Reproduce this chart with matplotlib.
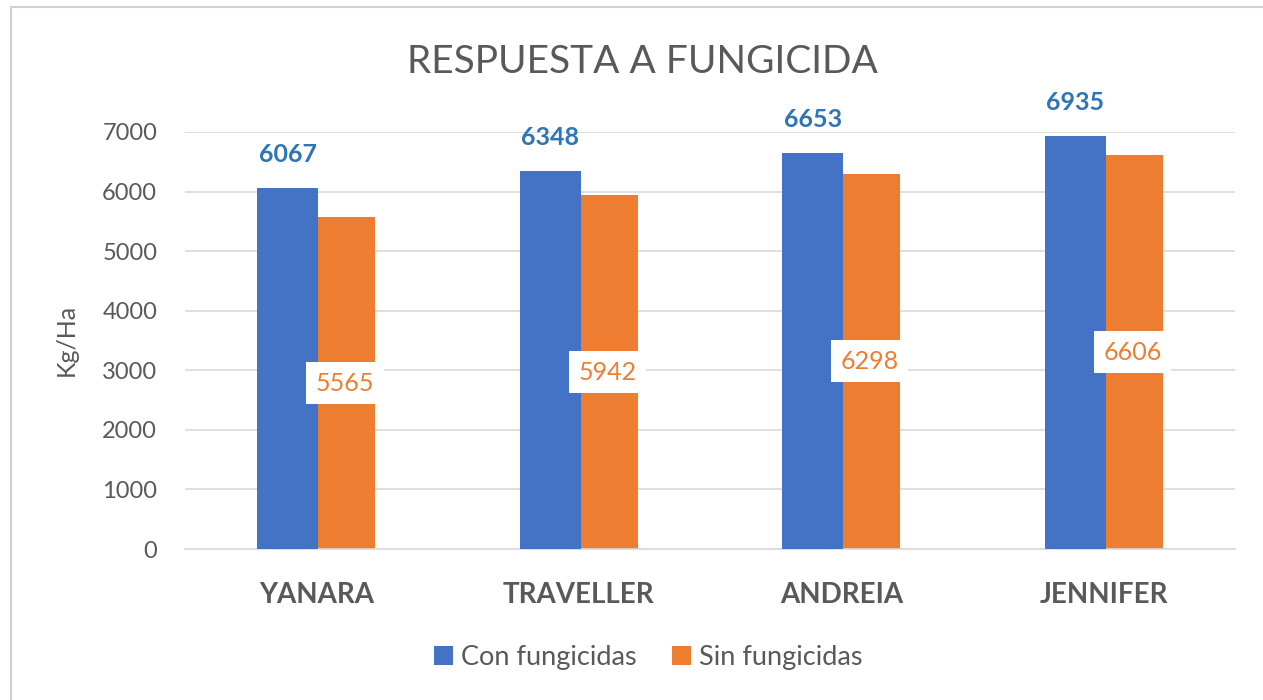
import matplotlib
matplotlib.use("Agg")
import matplotlib.pyplot as plt
from matplotlib.patches import Rectangle
import numpy as np

categories = ["YANARA", "TRAVELLER", "ANDREIA", "JENNIFER"]
con_fungicidas = [6067, 6348, 6653, 6935]
sin_fungicidas = [5565, 5942, 6298, 6606]
series_names = ["Con fungicidas", "Sin fungicidas"]
yticks = [0, 1000, 2000, 3000, 4000, 5000, 6000, 7000]

plt.rcParams['font.family'] = ['Lato', 'DejaVu Sans']
W, H = 1263, 700
fig = plt.figure(figsize=(W / 100, H / 100), dpi=100)
fig.patch.set_facecolor('white')

# outer chart border
fig.add_artist(Rectangle((11 / W, -0.05), 1.1, 1 - 7 / H + 0.05, transform=fig.transFigure,
                         fill=False, edgecolor='#d0d0d0', linewidth=1.5))

left, right = 185, 1235
bottom, top = 549, 132
ax = fig.add_axes([left / W, 1 - bottom / H, (right - left) / W, (bottom - top) / H])
ax.set_xlim(-0.5, len(categories) - 0.5)
ax.set_ylim(0, 7000)

x = np.arange(len(categories))
bw = 0.232
off = 0.109
blue = '#4472C4'
orange = '#ED7D31'
grey = '#595959'
b1 = ax.bar(x - off, con_fungicidas, bw, color=blue, label=series_names[0], zorder=3)
b2 = ax.bar(x + off, sin_fungicidas, bw, color=orange, label=series_names[1], zorder=2)

for xi, v in zip(x, con_fungicidas):
    ax.annotate(str(v), (xi - off, v), xytext=(0, 33), textcoords='offset pixels',
                ha='center', va='center', color='#2E75B6', fontsize=18, fontweight='bold',
                annotation_clip=False, zorder=5)
for xi, v in zip(x, sin_fungicidas):
    ax.text(xi + off, v / 2, str(v), ha='center', va='center', color=orange, fontsize=18,
            zorder=5, bbox=dict(boxstyle='square,pad=0.38', facecolor='white', edgecolor='none'))

ax.set_yticks(yticks)
ax.set_yticklabels([str(t) for t in yticks], fontsize=17, color=grey)
ax.set_xticks(x)
ax.set_xticklabels(categories, fontsize=20, fontweight='bold', color=grey)
ax.tick_params(axis='both', length=0)
ax.tick_params(axis='y', pad=20)
ax.tick_params(axis='x', pad=24)
ax.grid(axis='y', color='#d9d9d9', linewidth=1.2, zorder=0)
for s in ['top', 'right', 'left']:
    ax.spines[s].set_visible(False)
ax.spines['bottom'].set_color('#d9d9d9')
ax.spines['bottom'].set_linewidth(1.2)
ax.set_axisbelow(True)

fig.text(66 / W, 1 - 340 / H, "Kg/Ha", rotation=90, ha='center', va='center',
         fontsize=18, color=grey)
fig.text(642 / W, 1 - 62 / H, "RESPUESTA A FUNGICIDA", ha='center', va='center',
         fontsize=28, color=grey)

leg = fig.legend(handles=[b1, b2], labels=series_names, loc='center',
                 bbox_to_anchor=(648 / W, 1 - 657 / H), ncol=2, frameon=False,
                 fontsize=19.5, handlelength=0.7, handleheight=0.7, columnspacing=1.3,
                 handletextpad=0.3)
for t in leg.get_texts():
    t.set_color(grey)

fig.savefig('out.png', dpi=100, facecolor='white')
